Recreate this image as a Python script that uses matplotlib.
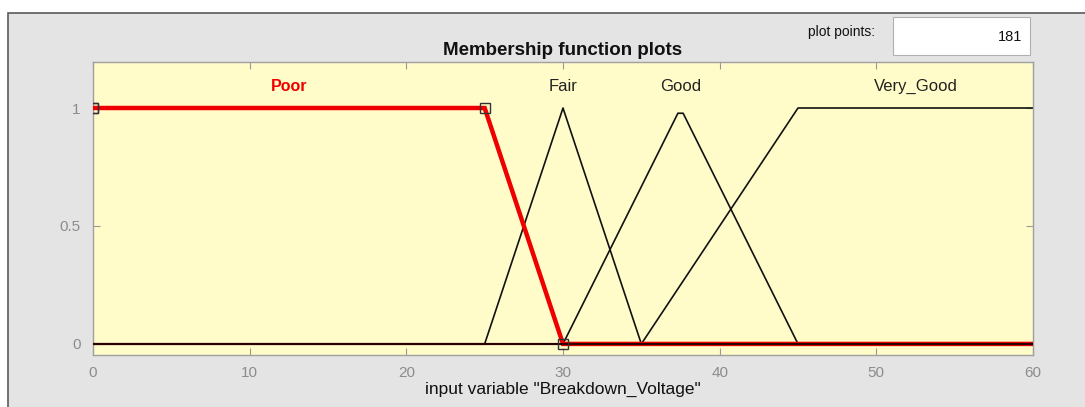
import matplotlib.pyplot as plt
import numpy as np
from matplotlib.patches import Rectangle

plt.rcParams['font.family'] = ['Liberation Sans', 'DejaVu Sans']

# membership functions of "Breakdown_Voltage"
var_range = [0, 60]
n_points = 181
mf_names = ['Poor', 'Fair', 'Good', 'Very_Good']
mf_types = ['trapmf', 'trimf', 'trimf', 'trapmf']
mf_params = [[0, 0, 25, 30],
             [25, 30, 35],
             [30, 37.5, 45],
             [35, 45, 60, 60]]
selected = 'Poor'


def trimf(x, p):
    a, b, c = p
    left = np.where(b > a, (x - a) / max(b - a, 1e-12), 1.0)
    right = np.where(c > b, (c - x) / max(c - b, 1e-12), 1.0)
    return np.clip(np.minimum(left, right), 0, 1)


def trapmf(x, p):
    a, b, c, d = p
    left = (x - a) / (b - a) if b > a else np.where(x >= a, 1.0, 0.0)
    right = (d - x) / (d - c) if d > c else np.where(x <= d, 1.0, 0.0)
    return np.clip(np.minimum(np.minimum(left, 1), right), 0, 1)


x = np.linspace(var_range[0], var_range[1], n_points)

fig = plt.figure(figsize=(10.85, 4.07), dpi=100, facecolor='white')

# grey panel behind the axes
fig.patches.append(Rectangle((8 / 1085, -0.01), 1.0, (407 - 13) / 407 + 0.01,
                             transform=fig.transFigure, facecolor='#e4e4e4',
                             edgecolor='#5a5a5a', linewidth=1.2, zorder=-1))

ax = fig.add_axes([93 / 1085, 52 / 407, 940 / 1085, 293 / 407])
ax.set_facecolor('#fffcc9')

curves = []
for name, kind, p in zip(mf_names, mf_types, mf_params):
    y = trimf(x, p) if kind == 'trimf' else trapmf(x, p)
    curves.append(y)

for name, y in zip(mf_names, curves):
    if name != selected:
        ax.plot(x, y, color='#111111', lw=1.2, zorder=2)

for name, kind, p, y in zip(mf_names, mf_types, mf_params, curves):
    if name == selected:
        ax.plot(x, y, color='#ee0000', lw=3.2, zorder=3, solid_joinstyle='miter')
        # square handles on the parameter points
        px = np.array(p, dtype=float)
        py = trapmf(px, p) if kind == 'trapmf' else trimf(px, p)
        ax.plot(px, py, ls='none', marker='s', ms=7.5, mfc='none',
                mec='#333333', mew=1.0, zorder=5)

# zero parts of the other curves sit over the thick red line
for name, y in zip(mf_names, curves):
    if name != selected:
        ax.plot(x, np.where(y == 0, y, np.nan), color='#2a0000', lw=1.5, zorder=4)

for name, kind, p in zip(mf_names, mf_types, mf_params):
    cx = (p[1] + p[2]) / 2 if kind == 'trapmf' else p[1]
    if name == selected:
        ax.text(cx, 1.093, name, ha='center', va='center', color='#ee0000',
                fontsize=11.5, fontweight='bold')
    else:
        ax.text(cx, 1.093, name, ha='center', va='center', color='#222222',
                fontsize=12)

ax.set_xlim(var_range)
ax.set_ylim(-0.047, 1.195)
ax.set_xticks(np.arange(0, 61, 10))
ax.set_yticks([0, 0.5, 1])
ax.set_yticklabels(['0', '0.5', '1'])
ax.tick_params(direction='in', length=5, width=0.8, colors='#999999',
               labelsize=11, top=True, right=True)
ax.tick_params(axis='x', pad=8)
ax.tick_params(axis='y', pad=9)
for t in ax.get_xticklabels() + ax.get_yticklabels():
    t.set_color('#8c8c8c')
for s in ax.spines.values():
    s.set_color('#a0a0a0')
    s.set_linewidth(1.0)

ax.set_xlabel('input variable "Breakdown_Voltage"', fontsize=12.5,
              color='#111111', labelpad=1)
ax.set_title('Membership function plots', fontsize=13.5, fontweight='bold',
             color='#111111', pad=5)

# plot points box
fig.text(875 / 1085, 1 - 32 / 407, 'plot points:', ha='right', va='center',
         fontsize=10, color='#111111')
fig.patches.append(Rectangle((893 / 1085, 1 - 55 / 407), 137 / 1085, 38 / 407,
                             transform=fig.transFigure, facecolor='white',
                             edgecolor='#b0b0b0', linewidth=0.8, zorder=1))
fig.text(1022 / 1085, 1 - 37 / 407, str(n_points), ha='right', va='center',
         fontsize=10.5, color='#111111')

fig.savefig('out.png', dpi=100)
